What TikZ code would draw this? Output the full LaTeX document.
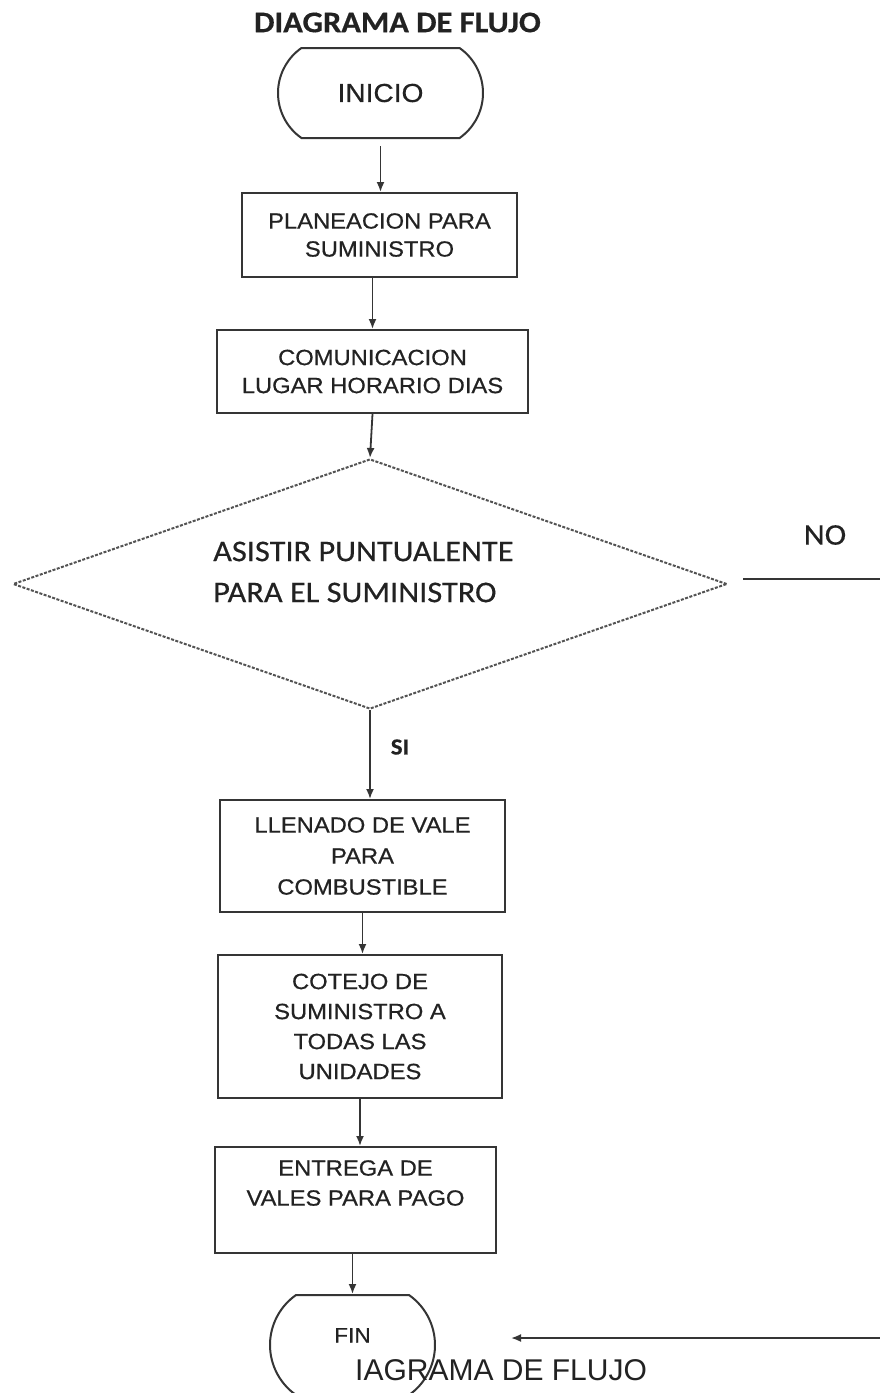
\documentclass[tikz,border=0pt]{standalone}
\usepackage{fontspec}
\newfontfamily\boxfont[FakeStretch=1.08,FakeBold=0.6]{Liberation Sans}
\newfontfamily\calfont[FakeStretch=1.08,FakeBold=0.4]{Carlito}
\newfontfamily\plainsans{Liberation Sans}
\usetikzlibrary{shapes.geometric,shapes.misc,arrows.meta}
\definecolor{ink}{HTML}{222222}
\definecolor{edge}{HTML}{353535}

\begin{document}
\begin{tikzpicture}[x=1pt,y=-1pt,
  procbox/.style={draw=edge, line width=2pt, rectangle, inner sep=0pt,
    align=center, text=ink, font=\boxfont\fontsize{22}{29}\selectfont},
  termbox/.style={draw=edge, line width=2pt, rounded rectangle,
    rounded rectangle arc length=110, inner sep=0pt, text=ink},
  decbox/.style={draw=edge!85, line width=2pt, dash pattern=on 3pt off 1.5pt,
    diamond, inner sep=0pt},
  boxtext/.style={text=ink, align=center, inner sep=0pt,
    font=\boxfont\fontsize{22}{30}\selectfont},
  caltext/.style={text=ink, inner sep=0pt, font=\calfont\fontsize{30}{41}\selectfont},
  arr/.style={draw=edge, line width=1.8pt, -{Latex[length=10pt,width=8pt]}}
]
% page frame
\useasboundingbox[fill=white] (0,0) rectangle (879,1393);

% heading
\node[text=ink, inner sep=0pt, font=\calfont\bfseries\fontsize{30}{36}\selectfont]
  (title) at (397.5,22.5) {DIAGRAMA DE FLUJO};

% flow shapes
\node[termbox, minimum width=205pt, minimum height=90pt,
  font=\boxfont\fontsize{26}{30}\selectfont] (inicio) at (380.5,93) {INICIO};
\node[procbox, minimum width=275pt, minimum height=84pt, font=\boxfont\fontsize{22}{28}\selectfont]
  (plan) at (379.5,235) {PLANEACION PARA\\SUMINISTRO};
\node[procbox, minimum width=311pt, minimum height=83pt, font=\boxfont\fontsize{22}{28}\selectfont]
  (comu) at (372.5,371.5) {COMUNICACION\\LUGAR HORARIO DIAS};
\node[decbox, minimum width=714pt, minimum height=250pt] (dec) at (370,584) {};
\node[caltext, anchor=west, align=left] (dectext) at (213,572)
  {ASISTIR PUNTUALENTE\\PARA EL SUMINISTRO};
\node[procbox, minimum width=285pt, minimum height=112pt, font=\boxfont\fontsize{22}{31}\selectfont]
  (llen) at (362.5,856) {LLENADO DE VALE\\PARA\\COMBUSTIBLE};
\node[procbox, minimum width=284pt, minimum height=143pt, font=\boxfont\fontsize{22}{30}\selectfont]
  (cote) at (360,1026.5) {COTEJO DE\\SUMINISTRO A\\TODAS LAS\\UNIDADES};
\node[procbox, minimum width=281pt, minimum height=106pt] (entr) at (355.5,1200) {};
\node[boxtext] (entrtext) at (355.5,1183) {ENTREGA DE\\VALES PARA PAGO};
\node[termbox, minimum width=165pt, minimum height=100pt, text height=15pt, text depth=20pt,
  font=\boxfont\fontsize{21}{25}\selectfont] (fin) at (352.5,1345) {FIN};

% branch labels
\node[caltext] (nolab) at (825,535) {NO};
\node[text=ink, inner sep=0pt, font=\calfont\bfseries\fontsize{23}{27}\selectfont]
  (silab) at (400,747) {SI};

% stray caption over the end symbol
\node[text=ink, inner sep=0pt, anchor=base west, font=\plainsans\fontsize{30}{34}\selectfont]
  (caption) at (355,1380) {IAGRAMA DE FLUJO};

% connectors
\draw[arr] ([yshift=-7pt]inicio.south) -- (inicio.south |- plan.north);
\draw[arr] (comu.north |- plan.south) -- (comu.north);
\draw[arr] (comu.south) -- (dec.north);
\draw[arr] (dec.south) -- (dec.south |- llen.north);
\draw[arr] (llen.south) -- (llen.south |- cote.north);
\draw[arr] (cote.south) -- (cote.south |- entr.north);
\draw[arr] (fin.north |- entr.south) -- (fin.north);

% NO branch, returning to the end symbol along the right side
\coordinate (noturn) at (940,579);
\draw[arr] ([xshift=15pt,yshift=5pt]dec.east) -- (noturn)
  |- ([xshift=75pt,yshift=7pt]fin.east);
\end{tikzpicture}
\end{document}
